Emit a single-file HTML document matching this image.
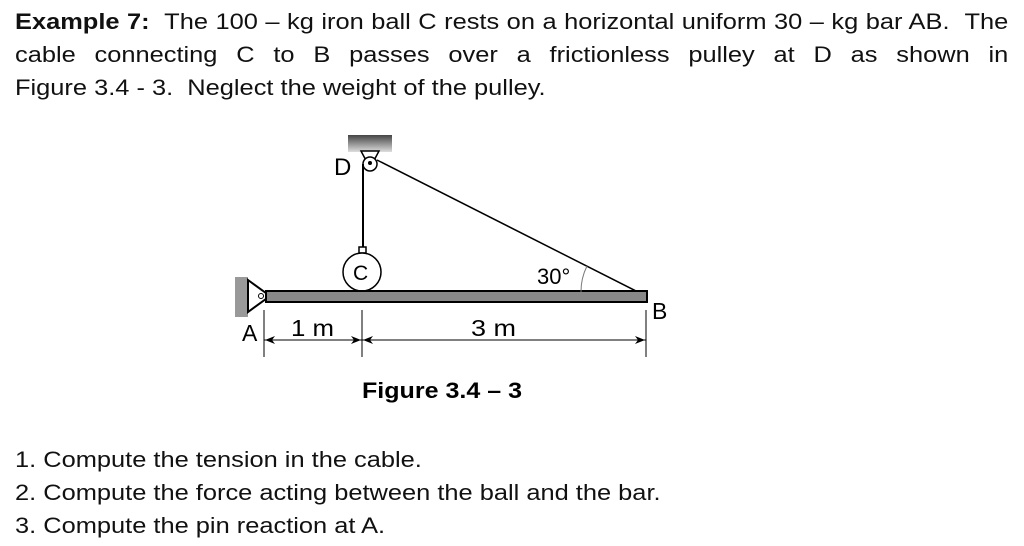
<!DOCTYPE html>
<html><head><meta charset="utf-8"><style>
body{margin:0;width:1024px;height:546px;background:#fff;position:relative;overflow:hidden;font-family:"Liberation Sans",Arial,sans-serif;color:#111}
.l{position:absolute;left:15px;width:860px;font-size:22px;line-height:26px;white-space:nowrap;transform:scaleX(1.155);transform-origin:0 0}
.j{text-align:justify;text-align-last:justify;white-space:normal}
</style></head><body>
<div class="l j" style="top:9px"><b>Example 7:</b>&nbsp; The 100 – kg iron ball C rests on a horizontal uniform 30 – kg bar AB. &nbsp;The</div>
<div class="l j" style="top:42px">cable connecting C to B passes over a frictionless pulley at D as shown in</div>
<div class="l" style="top:75px">Figure 3.4 - 3. &nbsp;Neglect the weight of the pulley.</div>

<svg style="position:absolute;left:0;top:0" width="1024" height="546" font-family="Liberation Sans">
<defs><linearGradient id="g" x1="0" y1="0" x2="0" y2="1"><stop offset="0" stop-color="#444"/><stop offset="1" stop-color="#ddd"/></linearGradient>
<marker id="ar" markerWidth="10" markerHeight="8" refX="10" refY="4" orient="auto" markerUnits="userSpaceOnUse"><path d="M0,0 L10,4 L0,8 L3,4z" fill="#000"/></marker></defs>
<rect x="348" y="135" width="44" height="17" fill="url(#g)"/>
<path d="M361,151 L370,168 L379,151z" fill="#fff" stroke="#000" stroke-width="1.5"/>
<circle cx="370" cy="164" r="7" fill="#fff" stroke="#000" stroke-width="1.5"/>
<circle cx="370" cy="163" r="2" fill="#000"/>
<line x1="363" y1="164" x2="363" y2="247" stroke="#000" stroke-width="2"/>
<line x1="377" y1="160" x2="638" y2="292" stroke="#000" stroke-width="1.5"/>
<rect x="359" y="247" width="7" height="6" fill="#fff" stroke="#000" stroke-width="1.5"/>
<circle cx="362" cy="272" r="19" fill="#fff" stroke="#000" stroke-width="1.5"/>
<rect x="235" y="277" width="13" height="40" fill="#999"/>
<path d="M248,280 L270,296 L248,312z" fill="#fff" stroke="#000" stroke-width="2"/>
<circle cx="261" cy="296" r="2.5" fill="#fff" stroke="#000"/>
<rect x="266" y="291" width="381" height="11" fill="#888" stroke="#000" stroke-width="2"/>
<path d="M581,292 A 57 57 0 0 1 587,266" fill="none" stroke="#777" stroke-width="1"/>
<text x="537" y="284" font-size="22">30°</text>
<text x="334" y="175" font-size="24">D</text>
<text x="652" y="319" font-size="23">B</text>
<text x="242" y="341" font-size="23">A</text>
<g stroke="#000" stroke-width="1">
<line x1="264" y1="310" x2="264" y2="357"/><line x1="362" y1="310" x2="362" y2="357"/><line x1="646" y1="310" x2="646" y2="357"/>
<line x1="362" y1="340" x2="265" y2="340" marker-end="url(#ar)"/><line x1="264" y1="340" x2="361" y2="340" marker-end="url(#ar)"/>
<line x1="646" y1="340" x2="363" y2="340" marker-end="url(#ar)"/><line x1="362" y1="340" x2="645" y2="340" marker-end="url(#ar)"/>
</g>
<text x="291" y="336" font-size="23" textLength="43" lengthAdjust="spacingAndGlyphs">1 m</text>
<text x="471" y="336" font-size="23" textLength="45" lengthAdjust="spacingAndGlyphs">3 m</text>
<text x="353" y="280" font-size="21">C</text>
<text x="362" y="398" font-size="22" font-weight="bold" textLength="160" lengthAdjust="spacingAndGlyphs">Figure 3.4 – 3</text>
</svg>

<div class="l" style="top:447px">1. Compute the tension in the cable.</div>
<div class="l" style="top:480px">2. Compute the force acting between the ball and the bar.</div>
<div class="l" style="top:513px">3. Compute the pin reaction at A.</div>
</body></html>
